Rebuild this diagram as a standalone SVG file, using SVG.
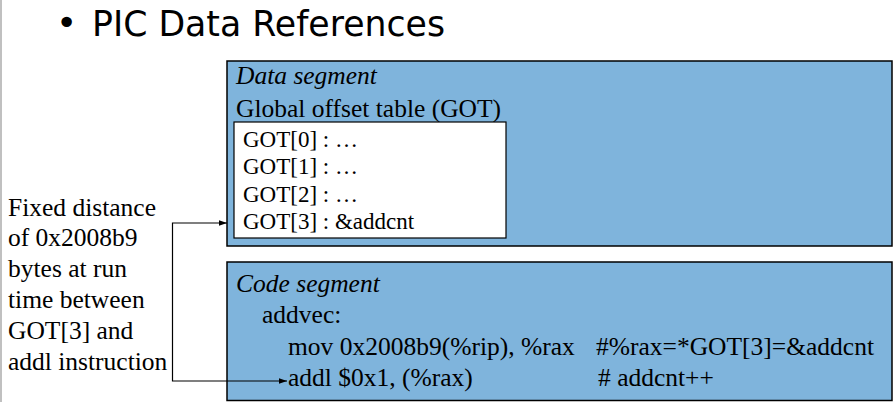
<svg xmlns="http://www.w3.org/2000/svg" width="895" height="402" viewBox="0 0 895 402">
<defs>
<style>
.seg{fill:#7FB4DC;stroke:#000;stroke-width:1.5}
.tbl{fill:#fff;stroke:#000;stroke-width:1.2}
.t{font-family:"Liberation Serif","Times New Roman",serif;font-size:25.5px;fill:#000}
.it{font-style:italic}
.g{font-size:23px}
.title{font-family:"Comic Sans MS","DejaVu Sans",sans-serif;font-size:36px;fill:#000}
.conn{fill:none;stroke:#000;stroke-width:1.2}
</style>
<marker id="ah" viewBox="0 0 10 10" refX="10" refY="5" markerWidth="8" markerHeight="8" markerUnits="userSpaceOnUse" orient="auto-start-reverse">
<path d="M0,1.5 L10,5 L0,8.5 z" fill="#000"/>
</marker>
</defs>
<rect width="895" height="402" fill="#fff"/>
<line x1="1" y1="0" x2="1" y2="402" stroke="#c0c0c0" stroke-width="2"/>
<g id="title">
<text class="title" x="56" y="35" font-size="26">•</text>
<text class="title" x="92" y="36" textLength="353" lengthAdjust="spacingAndGlyphs">PIC Data References</text>
</g>
<g id="data-segment">
<rect class="seg" x="227" y="61" width="665" height="185"/>
<text class="t it" x="236" y="84">Data segment</text>
<text class="t" x="236" y="117">Global offset table (GOT)</text>
</g>
<g id="got-table">
<rect class="tbl" x="234" y="122" width="272" height="116"/>
<text class="t g" x="243" y="147">GOT[0] : …</text>
<text class="t g" x="243" y="174">GOT[1] : …</text>
<text class="t g" x="243" y="202">GOT[2] : …</text>
<text class="t g" x="243" y="229">GOT[3] : &amp;addcnt</text>
</g>
<g id="code-segment">
<rect class="seg" x="227" y="262" width="665" height="138.5"/>
<text class="t it" x="236" y="292">Code segment</text>
<text class="t" x="262" y="323">addvec:</text>
<text class="t" x="288" y="355">mov 0x2008b9(%rip), %rax</text>
<text class="t" x="288" y="386">addl $0x1, (%rax)</text>
<text class="t" x="596" y="355">#%rax=*GOT[3]=&amp;addcnt</text>
<text class="t" x="598" y="386"># addcnt++</text>
</g>
<g id="note">
<text class="t" x="8" y="216">Fixed distance</text>
<text class="t" x="8" y="246">of 0x2008b9</text>
<text class="t" x="8" y="277">bytes at run</text>
<text class="t" x="8" y="308">time between</text>
<text class="t" x="8" y="339">GOT[3] and</text>
<text class="t" x="8" y="370">addl instruction</text>
</g>
<g id="connectors">
<path class="conn" d="M287,381 H172.5 V223 H227" marker-start="url(#ah)" marker-end="url(#ah)"/>
</g>
</svg>
